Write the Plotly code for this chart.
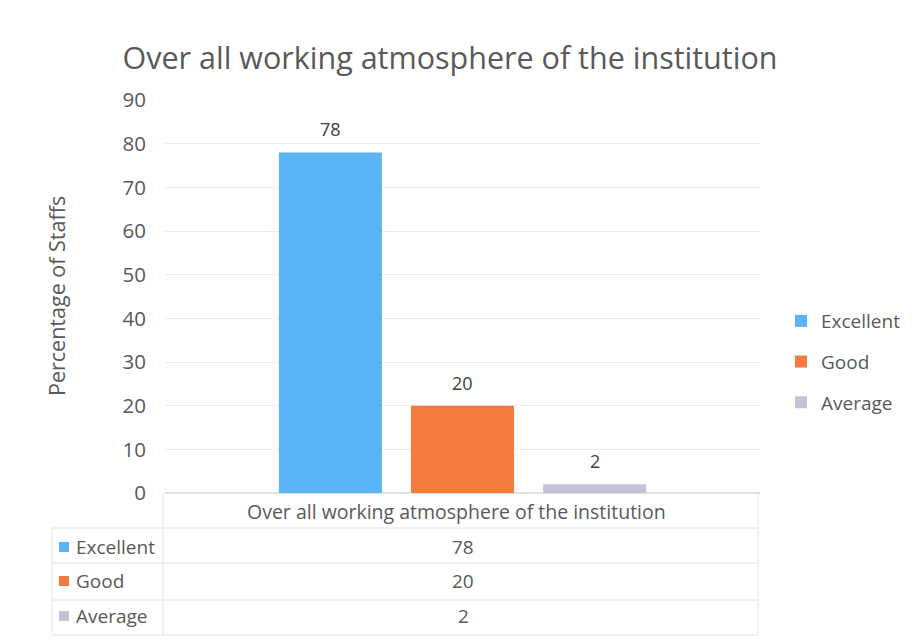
import plotly.graph_objects as go

# ---- data ----
categories = ["Over all working atmosphere of the institution"]
series_names = ["Excellent", "Good", "Average"]
series_values = [[78], [20], [2]]
colors = ["#5AB4F5", "#F27B3D", "#C4C3D6"]
y_ticks = [0, 10, 20, 30, 40, 50, 60, 70, 80, 90]
title_text = "Over all working atmosphere of the institution"
y_title = "Percentage of Staffs"

W, H = 913, 641
L, R, T, B = 165, 153, 100, 148
PW, PH = W - L - R, H - T - B
FONT = "Open Sans, Lato, sans-serif"
TXT = "#595959"
BARGAP, GROUPGAP = 0.334, 0.22


def px(x):
    return (x - L) / PW


def py(y):
    return (H - B - y) / PH


fig = go.Figure()
n = len(series_names)
slot = PW * (1 - BARGAP) / n
annotations = []
for i, (name, vals) in enumerate(zip(series_names, series_values)):
    fig.add_trace(go.Bar(
        x=categories, y=vals, name=name,
        marker=dict(color=colors[i], line=dict(width=0)),
        legendgroup=name,
    ))
    for c, v in zip(categories, vals):
        annotations.append(dict(
            text=str(v), x=c, y=v, xref="x", yref="y",
            xanchor="center", yanchor="bottom", yshift=9,
            xshift=(i - (n - 1) / 2) * slot, showarrow=False,
            font=dict(size=18, color="#404040", family=FONT)))

shapes = []
line_col = "#E4E4E4"
# data table borders
for yy in [528, 563, 600, 635]:
    shapes.append(dict(type="line", xref="paper", yref="paper",
                       x0=px(52), x1=px(758), y0=py(yy), y1=py(yy),
                       line=dict(color=line_col, width=1)))
shapes.append(dict(type="line", xref="paper", yref="paper",
                   x0=px(52), x1=px(52), y0=py(528), y1=py(635),
                   line=dict(color=line_col, width=1)))
shapes.append(dict(type="line", xref="paper", yref="paper",
                   x0=px(163), x1=px(163), y0=py(493), y1=py(635),
                   line=dict(color=line_col, width=1)))
shapes.append(dict(type="line", xref="paper", yref="paper",
                   x0=px(758), x1=px(758), y0=py(493), y1=py(635),
                   line=dict(color=line_col, width=1)))

# category label
annotations.append(dict(text=categories[0], xref="paper", yref="paper",
                        x=px(456), y=py(511), xanchor="center", yanchor="middle",
                        showarrow=False, font=dict(size=19.5, color=TXT, family=FONT)))
# y-axis title
annotations.append(dict(text=y_title, xref="paper", yref="paper",
                        x=px(56), y=py(296), xanchor="center", yanchor="middle",
                        textangle=-90, showarrow=False,
                        font=dict(size=21.5, color=TXT, family=FONT)))
row_y = [547, 581, 616]
for i, name in enumerate(series_names):
    yc = row_y[i]
    shapes.append(dict(type="rect", xref="paper", yref="paper",
                       x0=px(59), x1=px(69), y0=py(yc - 5), y1=py(yc + 5),
                       fillcolor=colors[i], line=dict(width=0)))
    annotations.append(dict(text=name, xref="paper", yref="paper",
                            x=px(74), y=py(yc), xanchor="left", yanchor="middle",
                            showarrow=False, font=dict(size=19, color=TXT, family=FONT)))
    annotations.append(dict(text=str(series_values[i][0]), xref="paper", yref="paper",
                            x=px(463), y=py(yc), xanchor="center", yanchor="middle",
                            showarrow=False, font=dict(size=19, color=TXT, family=FONT)))

fig.update_layout(
    width=W, height=H,
    margin=dict(l=L, r=R, t=T, b=B, autoexpand=False),
    paper_bgcolor="white", plot_bgcolor="white",
    title=dict(text=title_text, x=450 / W, xanchor="center",
               y=1 - 58 / H, yanchor="middle", yref="container",
               font=dict(size=30.5, color=TXT, family=FONT)),
    barmode="group", bargap=BARGAP, bargroupgap=GROUPGAP,
    xaxis=dict(showticklabels=False, showline=False, showgrid=False,
               zeroline=False, ticks=""),
    yaxis=dict(range=[0, 90], tickvals=y_ticks, showgrid=True,
               gridcolor="#EBEBEB", gridwidth=1, zeroline=True,
               zerolinecolor="#E0E0E0", showline=False, ticks="",
               ticklabelstandoff=18,
               tickfont=dict(size=20.5, color=TXT, family=FONT)),
    legend=dict(x=px(781), y=py(362), xanchor="left", yanchor="middle",
                xref="paper", yref="paper",
                font=dict(size=19, color=TXT, family=FONT),
                traceorder="grouped", tracegroupgap=13,
                bgcolor="rgba(0,0,0,0)"),
    shapes=shapes, annotations=annotations,
    showlegend=True,
)

fig.write_html("out.html", config={"displayModeBar": False},
               post_script="document.body.style.margin='0';document.body.style.overflow='hidden';")
